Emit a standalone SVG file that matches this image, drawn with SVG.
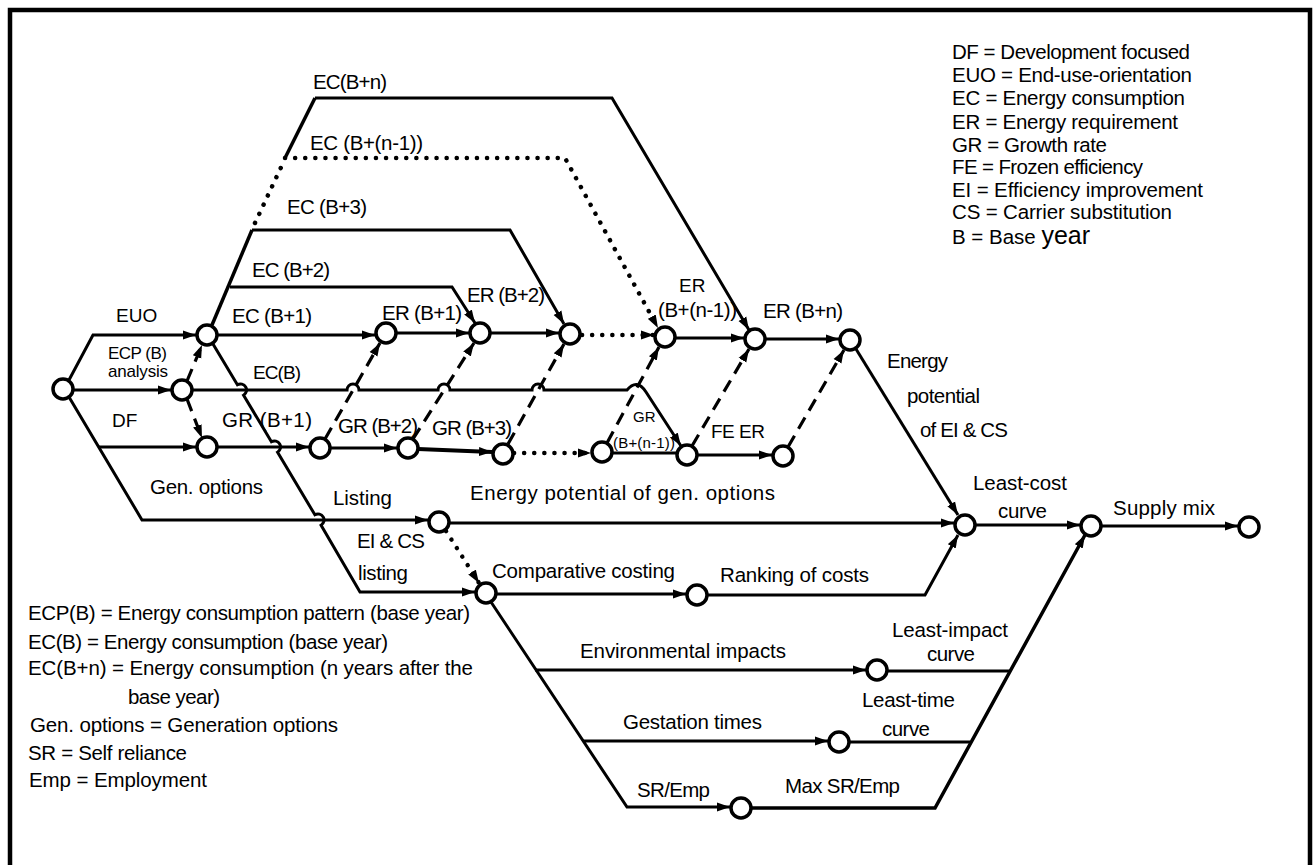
<svg xmlns="http://www.w3.org/2000/svg" width="1316" height="865" viewBox="0 0 1316 865">
<style>
  text { font-family: "Liberation Sans", Arial, sans-serif; font-size: 20.5px; fill: #000; }
  .sh { font-size: 19px; }
  .sm { font-size: 17px; }
  .xs { font-size: 15px; }
  .lg { font-size: 20.5px; }
  .ln { fill: none; stroke: #000; stroke-width: 3; stroke-linejoin: miter; }
  .dash { stroke-dasharray: 13 8; stroke-width: 3.2; }
  .dot { stroke-dasharray: 0.1 10; stroke-linecap: round; stroke-width: 4.5; }
  .node { fill: #fff; stroke: #000; stroke-width: 3.5; }
  .arr { marker-end: url(#ah); }
</style>
<defs>
  <marker id="ah" markerUnits="userSpaceOnUse" markerWidth="14" markerHeight="10" refX="13" refY="5" orient="auto" viewBox="0 0 14 10">
    <path d="M0,0.5 L13,5 L0,9.5 z" fill="#000"/>
  </marker>
</defs>
<rect width="1316" height="865" fill="#fff"/>
<path d="M10,870 V10 H1310 V870" fill="none" stroke="#000" stroke-width="4.5"/>

<g id="connectors">
  <path class="ln arr" d="M69,380 L93,335 H196"/>
  <path class="ln arr" d="M73,390 H171"/>
  <path class="ln arr" d="M69,397 L142,520 H428"/>
  <path class="ln arr" d="M99,447 H196"/>
  <path class="ln dash arr" d="M187,381 L202,345"/>
  <path class="ln dash arr" d="M187,399 L202,438"/>
  <path class="ln arr" d="M217,447 H309"/>
  <path class="ln arr" d="M330,448 H397"/>
  <path class="ln arr" d="M418,449 L492,452" style="stroke-width:4"/>
  <path class="ln dot arr" d="M514,453 H591"/>
  <path class="ln" d="M612,453 H677"/>
  <path class="ln arr" d="M697,455 H772"/>
  <path class="ln arr" d="M217,335 H375"/>
  <path class="ln arr" d="M396,333 H469"/>
  <path class="ln arr" d="M490,333 H559"/>
  <path class="ln dot arr" d="M582,335 H654"/>
  <path class="ln arr" d="M675,338 H744"/>
  <path class="ln arr" d="M765,339 H839"/>
  <path class="ln" d="M212,325 L252,230" style="stroke-width:3.5"/>
  <path class="ln dot" d="M255,223 L284,161"/>
  <path class="ln" d="M285,158 L315,98" style="stroke-width:3.5"/>
  <path class="ln arr" d="M230,287 H452 L475,323"/>
  <path class="ln arr" d="M252,230 H510 L564,324"/>
  <path class="ln dot arr" d="M285,158 H565 L658,328"/>
  <path class="ln arr" d="M315,98 H612 L749,330"/>
  <path class="ln arr" d="M192,390 H347 a6,6 0 0 1 12,0 H438 a6,6 0 0 1 12,0 H532 a6,6 0 0 1 12,0 H627 Q637,378 646,392 L681,446"/>
  <path class="ln dash arr" d="M325,439 L380,343"/>
  <path class="ln dash arr" d="M413,439 L474,343"/>
  <path class="ln dash arr" d="M508,444 L564,344"/>
  <path class="ln dash arr" d="M607,443 L659,347"/>
  <path class="ln dash arr" d="M692,446 L749,349"/>
  <path class="ln dash arr" d="M788,447 L844,350"/>
  <path class="ln arr" d="M213,344 L237.4,384.8 A6,6 0 0 1 243.6,395.2 L271.4,441.8 A6,6 0 0 1 277.6,452.2 L314.9,514.8 A6,6 0 0 1 321.1,525.2 L360,592 H475"/>
  <path class="ln arr" d="M856,349 L958,515"/>
  <path class="ln arr" d="M450,523 H954"/>
  <path class="ln dot arr" d="M446,531 L479,583"/>
  <path class="ln arr" d="M496,594 H686"/>
  <path class="ln arr" d="M708,595 H925 L958,535"/>
  <path class="ln arr" d="M491,602 L627,807 H730"/>
  <path class="ln arr" d="M535,670 H866"/>
  <path class="ln arr" d="M583,741 H828"/>
  <path class="ln" d="M887,671 H1010"/>
  <path class="ln" d="M849,742 H970"/>
  <path class="ln arr" d="M751,808 H935 L1085,535" style="stroke-width:3.5"/>
  <path class="ln arr" d="M975,525 H1080"/>
  <path class="ln arr" d="M1101,526 H1238"/>
</g>

<g id="n-start"><circle class="node" cx="63" cy="389" r="10"/></g>
<g id="n-euo"><circle class="node" cx="207" cy="335" r="10"/></g>
<g id="n-ecp"><circle class="node" cx="182" cy="390" r="10"/></g>
<g id="n-df"><circle class="node" cx="207" cy="447" r="10"/></g>
<g id="n-er1"><circle class="node" cx="386" cy="333" r="10"/></g>
<g id="n-er2"><circle class="node" cx="480" cy="333" r="10"/></g>
<g id="n-er3"><circle class="node" cx="570" cy="334" r="10"/></g>
<g id="n-er4"><circle class="node" cx="665" cy="337" r="10"/></g>
<g id="n-er5"><circle class="node" cx="755" cy="339" r="10"/></g>
<g id="n-er6"><circle class="node" cx="850" cy="340" r="10"/></g>
<g id="n-gr1"><circle class="node" cx="320" cy="448" r="10"/></g>
<g id="n-gr2"><circle class="node" cx="408" cy="448" r="10"/></g>
<g id="n-gr3"><circle class="node" cx="503" cy="454" r="10"/></g>
<g id="n-gr4"><circle class="node" cx="602" cy="452" r="10"/></g>
<g id="n-fe1"><circle class="node" cx="687" cy="455" r="10"/></g>
<g id="n-fe2"><circle class="node" cx="783" cy="456" r="10"/></g>
<g id="n-listing"><circle class="node" cx="439" cy="522" r="10"/></g>
<g id="n-comp"><circle class="node" cx="486" cy="593" r="10"/></g>
<g id="n-rank"><circle class="node" cx="697" cy="595" r="10"/></g>
<g id="n-leastcost"><circle class="node" cx="965" cy="525" r="10"/></g>
<g id="n-supply"><circle class="node" cx="1091" cy="526" r="10"/></g>
<g id="n-end"><circle class="node" cx="1249" cy="527" r="10"/></g>
<g id="n-env"><circle class="node" cx="877" cy="670" r="10"/></g>
<g id="n-gest"><circle class="node" cx="839" cy="742" r="10"/></g>
<g id="n-sremp"><circle class="node" cx="741" cy="808" r="10"/></g>

<g id="labels">
  <text x="313" y="89" textLength="74">EC(B+n)</text>
  <text x="310" y="150" textLength="113">EC (B+(n-1))</text>
  <text x="287" y="214" textLength="80">EC (B+3)</text>
  <text x="252" y="277" textLength="78">EC (B+2)</text>
  <text x="232" y="323" textLength="80">EC (B+1)</text>
  <text x="382" y="320" textLength="80">ER (B+1)</text>
  <text x="467" y="302" textLength="78">ER (B+2)</text>
  <text class="sh" x="679" y="292">ER</text>
  <text x="658" y="317" textLength="79">(B+(n-1))</text>
  <text x="763" y="318" textLength="80">ER (B+n)</text>
  <text class="sh" x="253" y="379" textLength="48">EC(B)</text>
  <text class="sh" x="116" y="322">EUO</text>
  <text class="sm" x="108" y="359" textLength="59">ECP (B)</text>
  <text class="sm" x="108" y="377" textLength="60">analysis</text>
  <text class="sh" x="112" y="427">DF</text>
  <text x="222" y="427" textLength="90">GR (B+1)</text>
  <text x="338" y="433" textLength="80">GR (B+2)</text>
  <text x="432" y="435" textLength="80">GR (B+3)</text>
  <text class="xs" x="633" y="422">GR</text>
  <text class="xs" x="613" y="448" textLength="62">(B+(n-1))</text>
  <text class="sh" x="711" y="438" textLength="54">FE ER</text>
  <text x="150" y="494" textLength="113">Gen. options</text>
  <text x="333" y="505" textLength="59">Listing</text>
  <text x="357" y="548" textLength="68">EI &amp; CS</text>
  <text x="358" y="580" textLength="50">listing</text>
  <text x="470" y="500" textLength="305">Energy potential of gen. options</text>
  <text x="492" y="578" textLength="183">Comparative costing</text>
  <text x="720" y="582" textLength="149">Ranking of costs</text>
  <text x="580" y="658" textLength="206">Environmental impacts</text>
  <text x="892" y="637" textLength="116">Least-impact</text>
  <text x="927" y="661" textLength="48">curve</text>
  <text x="862" y="707" textLength="93">Least-time</text>
  <text x="882" y="736" textLength="48">curve</text>
  <text x="623" y="729" textLength="139">Gestation times</text>
  <text x="637" y="797" textLength="73">SR/Emp</text>
  <text x="785" y="793" textLength="115">Max SR/Emp</text>
  <text x="973" y="490" textLength="94">Least-cost</text>
  <text x="998" y="518" textLength="49">curve</text>
  <text x="1113" y="515" textLength="102">Supply mix</text>
  <text x="887" y="368" textLength="61">Energy</text>
  <text x="907" y="403" textLength="73">potential</text>
  <text x="920" y="437" textLength="88">of EI &amp; CS</text>
</g>

<g id="legend-top">
  <text class="lg" x="952" y="59" textLength="238">DF = Development focused</text>
  <text class="lg" x="952" y="82" textLength="240">EUO = End-use-orientation</text>
  <text class="lg" x="952" y="105" textLength="233">EC = Energy consumption</text>
  <text class="lg" x="952" y="129" textLength="226">ER = Energy requirement</text>
  <text class="lg" x="952" y="152" textLength="155">GR = Growth rate</text>
  <text class="lg" x="952" y="174" textLength="191">FE = Frozen efficiency</text>
  <text class="lg" x="952" y="197" textLength="251">EI = Efficiency improvement</text>
  <text class="lg" x="952" y="219" textLength="220">CS = Carrier substitution</text>
  <text class="lg" x="952" y="244">B = Base <tspan style="font-size:25px">year</tspan></text>
</g>

<g id="legend-bottom">
  <text class="lg" x="28" y="620" textLength="442">ECP(B) = Energy consumption pattern (base year)</text>
  <text class="lg" x="28" y="649" textLength="360">EC(B) = Energy consumption (base year)</text>
  <text class="lg" x="28" y="675" textLength="445">EC(B+n) = Energy consumption (n years  after the</text>
  <text class="lg" x="128" y="704" textLength="92">base year)</text>
  <text class="lg" x="30" y="732" textLength="308">Gen. options = Generation options</text>
  <text class="lg" x="28" y="760" textLength="159">SR = Self reliance</text>
  <text class="lg" x="29" y="787" textLength="178">Emp = Employment</text>
</g>
</svg>
